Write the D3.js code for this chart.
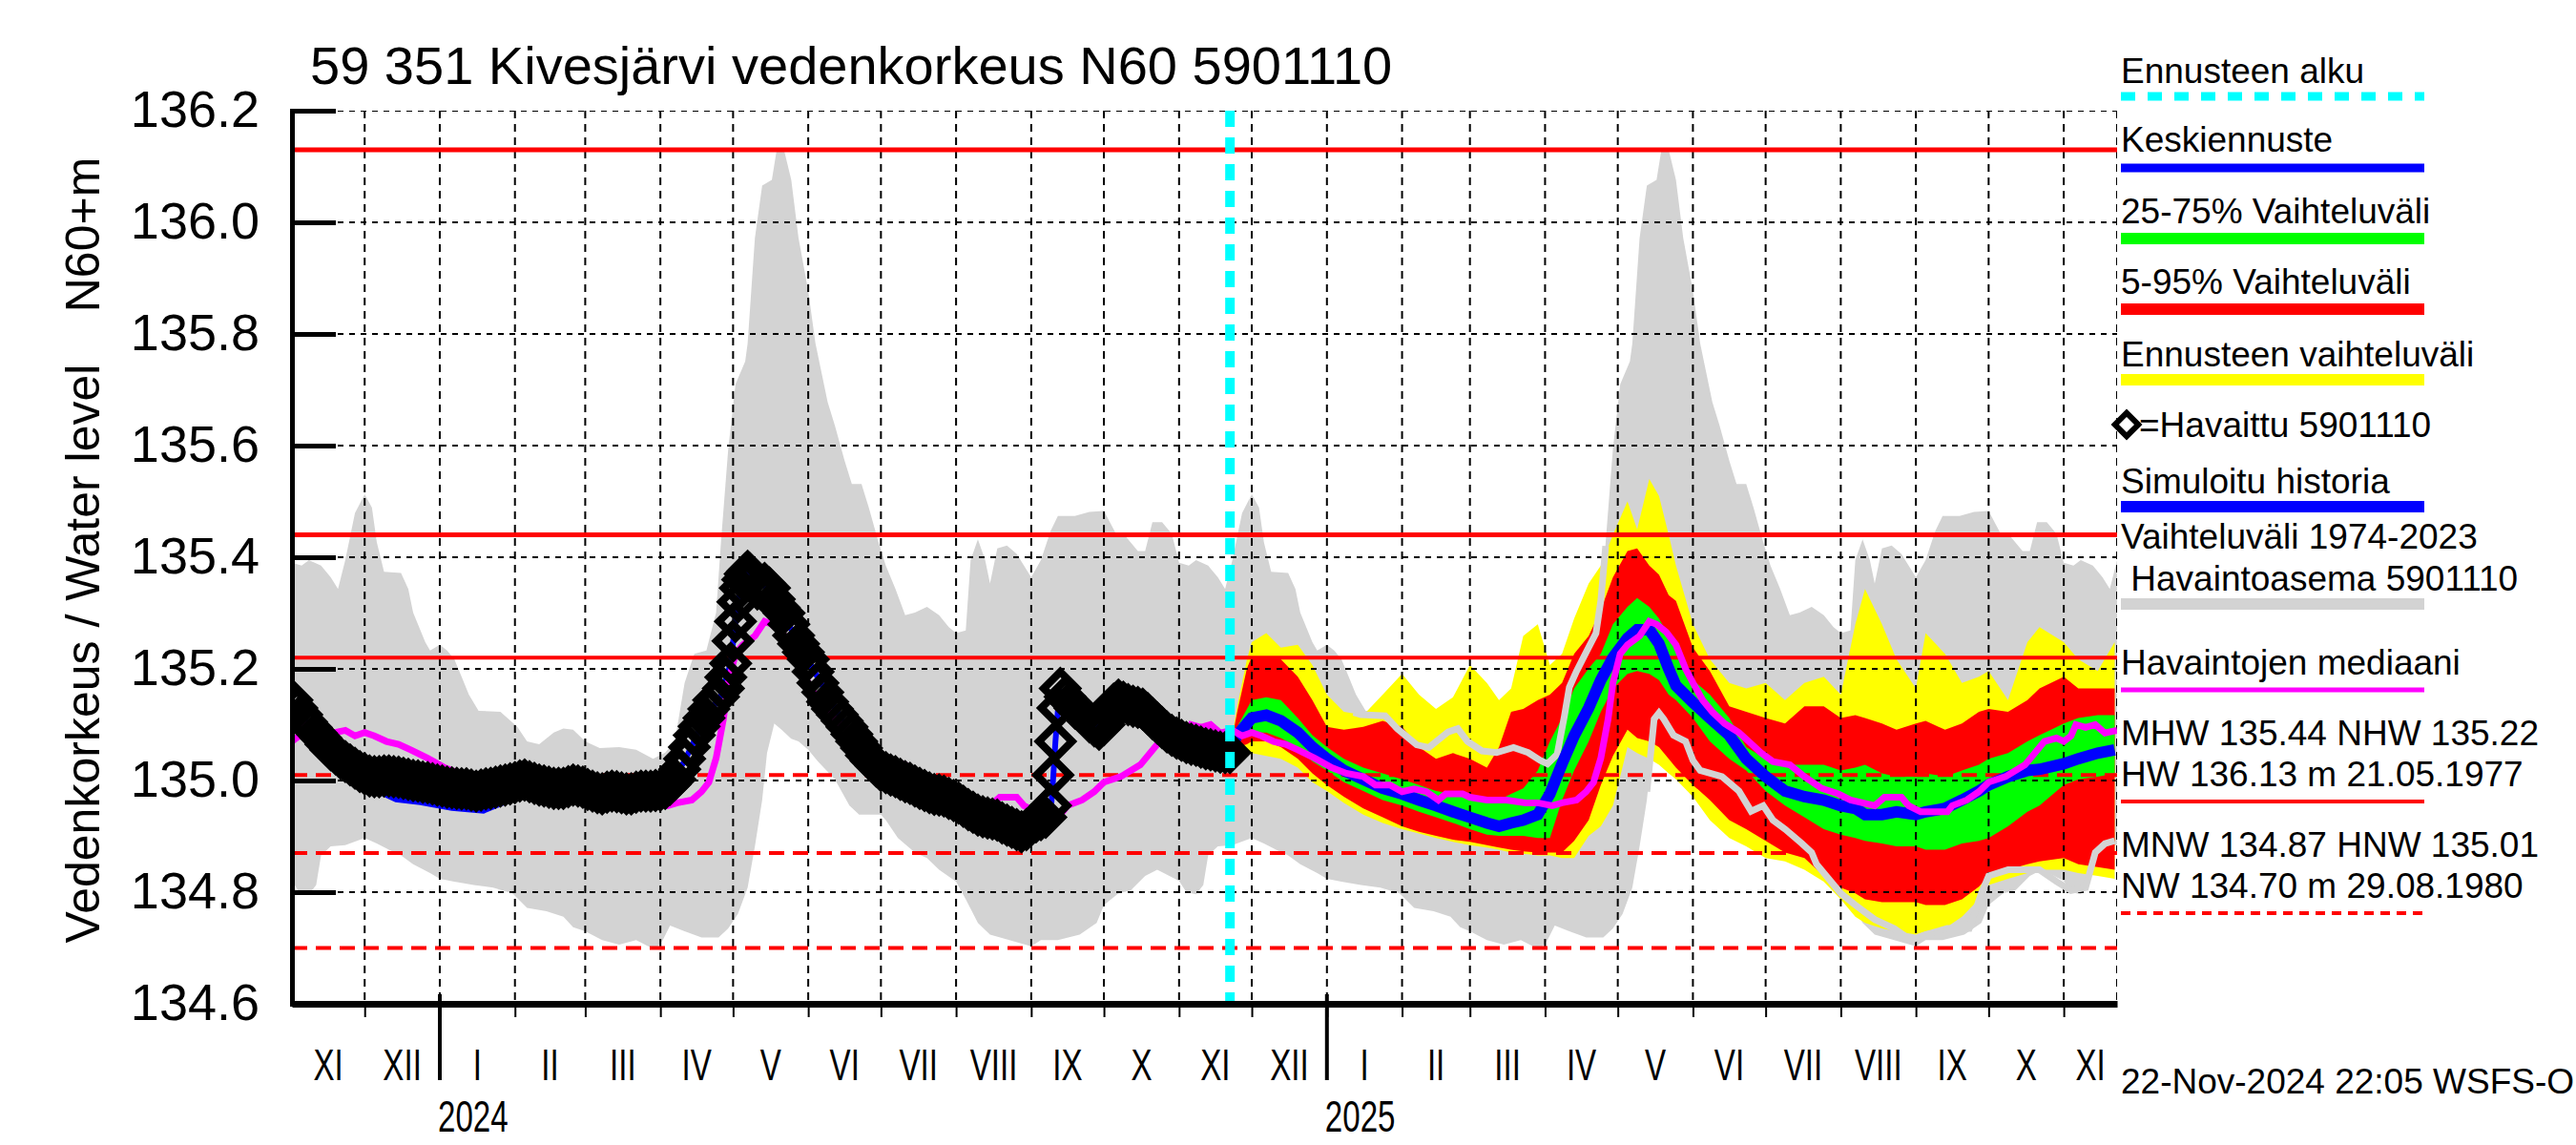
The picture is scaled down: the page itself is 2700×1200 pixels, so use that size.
<!DOCTYPE html>
<html>
<head>
<meta charset="utf-8">
<script src="https://cdn.jsdelivr.net/npm/d3@7"></script>
<style>
  body { margin: 0; background: #fff; }
  svg { display: block; }
  text { font-family: "Liberation Sans", Arial, Helvetica, sans-serif; fill: #000; }
</style>
</head>
<body>
<svg id="chart" width="2700" height="1200"></svg>
<script>
// ---- data ----
const titleText = "59 351 Kivesjärvi vedenkorkeus N60 5901110";
const yTicks = [134.6, 134.8, 135.0, 135.2, 135.4, 135.6, 135.8, 136.0, 136.2];
const monthNames = ["I","II","III","IV","V","VI","VII","VIII","IX","X","XI","XII"];
const refSolid = [136.13, 135.44, 135.22];   // HW, MHW, NHW
const refDashed = [135.01, 134.87, 134.70];  // HNW, MNW, NW

// climatology 1974-2023, by month-day (repeats every year)
const climUpper = [
  ["11-01",135.39],["11-05",135.385],["11-08",135.395],["11-13",135.385],["11-17",135.364],["11-20",135.343],
  ["11-23",135.395],["11-27",135.479],["12-01",135.513],["12-04",135.489],["12-06",135.427],["12-09",135.374],
  ["12-16",135.372],["12-19",135.343],["12-21",135.301],["12-26",135.248],["12-28",135.233],["01-01",135.243],
  ["01-04",135.233],["01-07",135.217],["01-10",135.186],["01-13",135.154],["01-17",135.125],["01-26",135.123],
  ["02-02",135.096],["02-06",135.07],["02-11",135.065],["02-17",135.086],["02-21",135.093],["02-25",135.091],
  ["03-01",135.07],["03-07",135.058],["03-15",135.06],["03-22",135.055],["03-29",135.039],["04-03",135.05],
  ["04-07",135.07],["04-09",135.123],["04-11",135.175],["04-15",135.227],["04-20",135.233],["04-24",135.301],
  ["04-26",135.427],["04-29",135.594],["05-02",135.71],["05-06",135.751],["05-07",135.783],["05-10",135.972],
  ["05-13",136.066],["05-17",136.076],["05-19",136.13],["05-22",136.13],["05-25",136.076],["05-28",135.972],
  ["06-01",135.877],["06-04",135.783],["06-09",135.678],["06-12",135.636],["06-16",135.573],["06-19",135.531],
  ["06-23",135.531],["06-26",135.489],["06-30",135.427],["07-03",135.385],["07-07",135.343],["07-11",135.296],
  ["07-15",135.301],["07-20",135.311],["07-25",135.296],["07-29",135.275],["08-01",135.264],["08-05",135.269],
  ["08-07",135.395],["08-10",135.432],["08-13",135.395],["08-15",135.353],["08-18",135.416],["08-22",135.421],
  ["08-26",135.406],["09-01",135.364],["09-05",135.395],["09-09",135.447],["09-12",135.474],["09-19",135.474],
  ["09-25",135.481],["10-01",135.483],["10-06",135.442],["10-10",135.437],["10-15",135.411],["10-18",135.411],
  ["10-21",135.463],["10-25",135.463],["10-29",135.442]
];
const climLower = [
  ["11-01",134.82],["11-04",134.80],["11-08",134.796],["11-11",134.813],["11-13",134.866],["11-17",134.882],
  ["11-23",134.884],["12-01",134.897],["12-06",134.887],["12-11",134.876],["12-16",134.866],["12-21",134.85],
  ["12-28",134.834],["01-01",134.824],["01-07",134.819],["01-15",134.813],["01-23",134.808],["01-31",134.798],
  ["02-06",134.772],["02-14",134.766],["02-21",134.756],["02-25",134.737],["03-01",134.73],["03-08",134.714],
  ["03-15",134.706],["03-22",134.714],["03-27",134.703],["03-30",134.698],["04-02",134.714],["04-05",134.74],
  ["04-11",134.73],["04-18",134.719],["04-25",134.719],["04-29",134.735],["05-03",134.761],["05-07",134.808],
  ["05-10",134.882],["05-13",134.965],["05-15",135.049],["05-18",135.102],["05-21",135.091],["05-25",135.075],
  ["05-28",135.07],["06-01",135.055],["06-05",135.034],["06-12",135.002],["06-18",134.955],["06-22",134.939],
  ["07-01",134.939],["07-03",134.929],["07-08",134.897],["07-15",134.871],["07-20",134.861],["07-25",134.84],
  ["08-01",134.819],["08-05",134.787],["08-10",134.745],["08-15",134.724],["08-23",134.714],["09-01",134.703],
  ["09-05",134.714],["09-12",134.714],["09-21",134.724],["09-28",134.745],["10-01",134.777],["10-07",134.798],
  ["10-12",134.803],["10-18",134.829],["10-23",134.84],["10-28",134.829]
];
const climMedian = [
  ["11-01",135.07],["11-04",135.08],["11-06",135.10],["11-10",135.095],["11-14",135.10],["11-18",135.085],
  ["11-23",135.09],["11-27",135.08],["12-01",135.086],["12-05",135.08],["12-10",135.07],["12-15",135.065],
  ["12-20",135.055],["12-27",135.04],["01-03",135.023],["01-09",135.013],["01-16",135.007],["01-21",134.992],
  ["01-27",134.992],["02-01",134.98],["02-06",134.985],["02-11",134.98],["02-16",134.965],["02-19",134.976],
  ["02-26",134.976],["03-01",134.97],["03-08",134.965],["03-16",134.965],["03-24",134.96],["03-29",134.96],
  ["04-04",134.955],["04-08",134.96],["04-14",134.965],["04-18",134.98],["04-21",134.997],["04-24",135.04],
  ["04-27",135.11],["04-29",135.175],["05-02",135.227],["05-05",135.243],["05-10",135.259],["05-14",135.285],
  ["05-17",135.28],["05-21",135.266],["05-25",135.243],["05-29",135.20],["06-01",135.175],["06-05",135.144],
  ["06-09",135.123],["06-14",135.102],["06-20",135.086],["06-24",135.07],["06-29",135.05],["07-04",135.034],
  ["07-11",135.028],["07-17",135.007],["07-24",134.986],["07-31",134.976],["08-05",134.965],["08-10",134.96],
  ["08-15",134.955],["08-19",134.97],["08-26",134.97],["08-29",134.955],["09-03",134.944],["09-14",134.944],
  ["09-16",134.955],["09-22",134.965],["09-27",134.98],["10-01",134.997],["10-08",135.007],["10-16",135.028],
  ["10-24",135.07],["10-29",135.076]
];

// observed water level 5901110
const observed = [
  ["2023-11-01",135.144],["2023-11-03",135.13],["2023-11-05",135.118],["2023-11-07",135.105],["2023-11-09",135.095],
  ["2023-11-11",135.085],["2023-11-13",135.076],["2023-11-15",135.065],["2023-11-17",135.055],["2023-11-19",135.048],
  ["2023-11-21",135.04],["2023-11-23",135.034],["2023-11-25",135.028],["2023-11-27",135.022],["2023-11-29",135.016],
  ["2023-12-01",135.012],["2023-12-03",135.008],["2023-12-05",135.007],["2023-12-07",135.007],["2023-12-09",135.008],
  ["2023-12-11",135.008],["2023-12-13",135.007],["2023-12-15",135.006],["2023-12-17",135.004],["2023-12-19",135.002],
  ["2023-12-21",135.0],["2023-12-23",134.999],["2023-12-25",134.997],["2023-12-27",134.996],["2023-12-29",134.994],
  ["2023-12-31",134.992],["2024-01-02",134.99],["2024-01-04",134.988],["2024-01-06",134.987],["2024-01-08",134.986],
  ["2024-01-10",134.985],["2024-01-12",134.985],["2024-01-14",134.983],["2024-01-16",134.981],["2024-01-18",134.983],
  ["2024-01-20",134.985],["2024-01-22",134.986],["2024-01-24",134.988],["2024-01-26",134.99],["2024-01-28",134.992],
  ["2024-01-30",134.994],["2024-02-01",134.996],["2024-02-03",134.999],["2024-02-05",135.001],["2024-02-07",134.998],
  ["2024-02-09",134.995],["2024-02-11",134.992],["2024-02-13",134.99],["2024-02-15",134.988],["2024-02-17",134.986],
  ["2024-02-19",134.986],["2024-02-21",134.986],["2024-02-23",134.989],["2024-02-25",134.992],["2024-02-27",134.99],
  ["2024-02-29",134.988],["2024-03-02",134.984],["2024-03-04",134.981],["2024-03-06",134.978],["2024-03-08",134.976],
  ["2024-03-10",134.979],["2024-03-12",134.981],["2024-03-14",134.98],["2024-03-16",134.978],["2024-03-18",134.976],
  ["2024-03-20",134.976],["2024-03-22",134.979],["2024-03-24",134.981],["2024-03-26",134.981],["2024-03-28",134.981],
  ["2024-03-30",134.982],["2024-04-01",134.983],["2024-04-03",134.986],["2024-04-05",134.993],["2024-04-07",135.002],
  ["2024-04-09",135.02],["2024-04-11",135.039],["2024-04-13",135.06],["2024-04-15",135.081],["2024-04-17",135.097],
  ["2024-04-19",135.112],["2024-04-21",135.128],["2024-04-23",135.144],["2024-04-25",135.15],["2024-04-27",135.165],
  ["2024-04-28",135.185],["2024-04-30",135.21],["2024-05-01",135.25],["2024-05-02",135.285],["2024-05-03",135.32],
  ["2024-05-04",135.345],["2024-05-05",135.36],["2024-05-06",135.37],["2024-05-07",135.375],["2024-05-08",135.37],
  ["2024-05-09",135.364],["2024-05-11",135.343],["2024-05-12",135.345],["2024-05-14",135.353],["2024-05-16",135.345],
  ["2024-05-18",135.325],["2024-05-20",135.31],["2024-05-22",135.30],["2024-05-24",135.28],["2024-05-26",135.26],
  ["2024-05-28",135.245],["2024-05-30",135.23],["2024-06-01",135.217],["2024-06-03",135.195],["2024-06-05",135.175],
  ["2024-06-07",135.158],["2024-06-09",135.141],["2024-06-11",135.128],["2024-06-13",135.118],["2024-06-15",135.107],
  ["2024-06-17",135.096],["2024-06-19",135.083],["2024-06-21",135.07],["2024-06-23",135.058],["2024-06-25",135.045],
  ["2024-06-27",135.035],["2024-06-29",135.026],["2024-07-01",135.018],["2024-07-03",135.014],["2024-07-05",135.01],
  ["2024-07-07",135.007],["2024-07-09",135.002],["2024-07-11",134.998],["2024-07-13",134.995],["2024-07-15",134.99],
  ["2024-07-17",134.986],["2024-07-19",134.982],["2024-07-21",134.978],["2024-07-23",134.975],["2024-07-25",134.974],
  ["2024-07-27",134.972],["2024-07-29",134.968],["2024-07-31",134.964],["2024-08-02",134.96],["2024-08-04",134.954],
  ["2024-08-06",134.948],["2024-08-08",134.943],["2024-08-10",134.938],["2024-08-12",134.935],["2024-08-14",134.933],
  ["2024-08-16",134.931],["2024-08-18",134.929],["2024-08-20",134.924],["2024-08-22",134.92],["2024-08-24",134.916],
  ["2024-08-26",134.912],["2024-08-28",134.908],["2024-08-30",134.912],["2024-09-01",134.92],["2024-09-03",134.926],
  ["2024-09-05",134.93],["2024-09-07",134.934],["2024-09-09",134.955],["2024-09-10",135.01],["2024-09-11",135.07],
  ["2024-09-12",135.13],["2024-09-13",135.165],["2024-09-15",135.15],["2024-09-17",135.14],["2024-09-19",135.13],
  ["2024-09-21",135.123],["2024-09-23",135.115],["2024-09-25",135.105],["2024-09-27",135.098],["2024-09-29",135.092],
  ["2024-10-01",135.1],["2024-10-03",135.122],["2024-10-05",135.137],["2024-10-07",135.144],["2024-10-09",135.14],
  ["2024-10-11",135.136],["2024-10-13",135.133],["2024-10-15",135.131],["2024-10-17",135.128],["2024-10-19",135.12],
  ["2024-10-21",135.111],["2024-10-23",135.103],["2024-10-25",135.095],["2024-10-27",135.087],["2024-10-29",135.081],
  ["2024-10-31",135.076],["2024-11-02",135.072],["2024-11-04",135.068],["2024-11-06",135.065],["2024-11-08",135.063],
  ["2024-11-10",135.06],["2024-11-12",135.057],["2024-11-14",135.055],["2024-11-16",135.053],["2024-11-18",135.051],
  ["2024-11-20",135.05],["2024-11-22",135.05]
];

// simulated history
const simulated = [
  ["2023-11-01",135.14],["2023-11-10",135.088],["2023-11-20",135.042],["2023-11-30",135.0],["2023-12-07",134.98],
  ["2023-12-14",134.966],["2023-12-24",134.961],["2024-01-06",134.951],["2024-01-19",134.946],["2024-01-28",134.962],
  ["2024-02-05",134.978],["2024-02-15",134.972],["2024-02-25",134.966],["2024-03-05",134.97],["2024-03-20",134.972],
  ["2024-04-03",134.982],["2024-04-11",135.035],["2024-04-19",135.108],["2024-04-26",135.152],["2024-04-30",135.21],
  ["2024-05-02",135.285],["2024-05-04",135.34],["2024-05-07",135.37],["2024-05-14",135.35],["2024-05-22",135.295],
  ["2024-06-01",135.215],["2024-06-16",135.1],["2024-07-01",135.017],["2024-07-17",134.986],["2024-08-02",134.96],
  ["2024-08-18",134.928],["2024-08-28",134.91],["2024-09-07",134.93],["2024-09-09",134.94],["2024-09-10",135.0],
  ["2024-09-11",135.07],["2024-09-12",135.125],["2024-09-13",135.16],["2024-09-21",135.122],["2024-09-30",135.09],
  ["2024-10-07",135.142],["2024-10-17",135.126],["2024-10-27",135.082],["2024-11-06",135.055],["2024-11-15",135.037],
  ["2024-11-22",135.035]
];

// forecast: date, max, 95%, 75%, median, 25%, 5%, min
const forecastRows = [
  ["2024-11-22",135.055,135.055,135.055,135.055,135.055,135.055,135.055],
  ["2024-11-25",135.133,135.123,135.096,135.081,135.070,135.060,135.049],
  ["2024-11-29",135.217,135.201,135.128,135.102,135.081,135.065,135.051],
  ["2024-12-01",135.248,135.222,135.144,135.112,135.086,135.070,135.049],
  ["2024-12-07",135.264,135.222,135.149,135.117,135.086,135.070,135.044],
  ["2024-12-13",135.238,135.217,135.144,135.107,135.076,135.060,135.039],
  ["2024-12-20",135.243,135.186,135.112,135.086,135.060,135.039,135.023],
  ["2024-12-26",135.207,135.144,135.081,135.060,135.034,135.013,134.997],
  ["2025-01-01",135.154,135.096,135.060,135.039,135.018,134.992,134.981],
  ["2025-01-08",135.123,135.091,135.039,135.018,134.997,134.971,134.960],
  ["2025-01-16",135.117,135.096,135.023,135.002,134.981,134.950,134.939],
  ["2025-01-24",135.154,135.107,135.013,134.986,134.965,134.934,134.924],
  ["2025-02-01",135.191,135.096,135.002,134.976,134.955,134.918,134.913],
  ["2025-02-08",135.154,135.060,134.992,134.965,134.944,134.908,134.905],
  ["2025-02-15",135.128,135.039,134.981,134.955,134.934,134.901,134.897],
  ["2025-02-22",135.149,135.049,134.976,134.944,134.924,134.894,134.890],
  ["2025-03-01",135.207,135.039,134.971,134.934,134.913,134.890,134.884],
  ["2025-03-08",135.175,135.023,134.965,134.924,134.903,134.884,134.880],
  ["2025-03-13",135.144,135.060,134.965,134.918,134.901,134.880,134.876],
  ["2025-03-18",135.165,135.123,134.976,134.924,134.901,134.876,134.871],
  ["2025-03-23",135.259,135.128,134.986,134.929,134.901,134.873,134.869],
  ["2025-03-29",135.280,135.144,135.018,134.939,134.897,134.871,134.866],
  ["2025-04-03",135.207,135.154,135.070,134.976,134.897,134.871,134.866],
  ["2025-04-08",135.227,135.175,135.112,135.030,134.965,134.871,134.861],
  ["2025-04-13",135.290,135.227,135.165,135.080,135.018,134.892,134.861],
  ["2025-04-19",135.353,135.259,135.201,135.130,135.070,134.929,134.901],
  ["2025-04-24",135.385,135.306,135.227,135.180,135.123,134.992,134.918],
  ["2025-04-29",135.440,135.364,135.280,135.220,135.165,135.044,134.955],
  ["2025-05-05",135.500,135.411,135.311,135.255,135.191,135.091,135.060],
  ["2025-05-09",135.450,135.416,135.327,135.270,135.196,135.076,135.049],
  ["2025-05-14",135.540,135.385,135.311,135.270,135.191,135.070,135.039],
  ["2025-05-18",135.510,135.369,135.290,135.245,135.180,135.060,135.028],
  ["2025-05-22",135.440,135.332,135.259,135.200,135.154,135.039,135.013],
  ["2025-05-25",135.385,135.322,135.238,135.170,135.144,135.023,135.002],
  ["2025-06-01",135.280,135.238,135.180,135.140,135.112,134.992,134.971],
  ["2025-06-08",135.217,135.196,135.154,135.112,135.070,134.965,134.929],
  ["2025-06-16",135.175,135.133,135.112,135.081,135.039,134.929,134.897],
  ["2025-06-23",135.165,135.123,135.060,135.039,135.018,134.913,134.882],
  ["2025-07-01",135.175,135.112,135.039,135.007,134.981,134.892,134.861],
  ["2025-07-09",135.144,135.102,135.028,134.981,134.955,134.871,134.855],
  ["2025-07-17",135.175,135.133,135.028,134.971,134.934,134.861,134.840],
  ["2025-07-25",135.186,135.133,135.028,134.965,134.913,134.829,134.819],
  ["2025-08-01",135.154,135.112,135.018,134.955,134.903,134.808,134.787],
  ["2025-08-07",135.280,135.117,135.023,134.950,134.897,134.798,134.756],
  ["2025-08-11",135.343,135.112,135.028,134.939,134.892,134.787,134.745],
  ["2025-08-18",135.280,135.102,135.013,134.939,134.887,134.782,134.735],
  ["2025-08-24",135.217,135.091,135.007,134.944,134.882,134.782,134.730],
  ["2025-09-01",135.165,135.102,135.007,134.939,134.882,134.782,134.724],
  ["2025-09-05",135.264,135.107,135.013,134.944,134.876,134.777,134.730],
  ["2025-09-13",135.227,135.091,135.007,134.950,134.876,134.777,134.735],
  ["2025-09-20",135.175,135.102,135.018,134.965,134.887,134.787,134.756],
  ["2025-09-27",135.186,135.123,135.028,134.981,134.892,134.810,134.787],
  ["2025-10-01",135.196,135.128,135.039,134.992,134.897,134.829,134.813],
  ["2025-10-09",135.144,135.123,135.049,135.007,134.918,134.840,134.824],
  ["2025-10-17",135.248,135.144,135.070,135.018,134.944,134.850,134.834],
  ["2025-10-22",135.275,135.165,135.081,135.020,134.955,134.855,134.840],
  ["2025-11-01",135.248,135.186,135.102,135.030,134.992,134.861,134.840],
  ["2025-11-07",135.217,135.165,135.112,135.039,135.002,134.850,134.834],
  ["2025-11-15",135.196,135.165,135.117,135.049,135.007,134.845,134.829],
  ["2025-11-22",135.248,135.165,135.117,135.055,135.013,134.840,134.824]
];

// light grey trace drawn over the forecast (null = gap)
const greyTrace = [
  ["2025-01-12",135.122],["2025-01-15",135.118],["2025-01-25",135.116],["2025-01-30",135.093],["2025-02-07",135.064],
  ["2025-02-12",135.059],["2025-02-20",135.087],["2025-02-24",135.093],["2025-02-28",135.07],["2025-03-06",135.053],
  ["2025-03-12",135.05],["2025-03-19",135.059],["2025-03-25",135.05],["2025-03-30",135.036],["2025-04-02",135.03],
  ["2025-04-06",135.047],["2025-04-09",135.116],["2025-04-11",135.167],["2025-04-14",135.196],["2025-04-18",135.23],
  ["2025-04-22",135.264],["2025-04-24",135.322],["2025-04-26",135.42],["2025-05-01",null],
  ["2025-05-13",134.98],["2025-05-16",135.11],["2025-05-18",135.121],["2025-05-20",135.11],["2025-05-24",135.081],
  ["2025-05-29",135.07],["2025-06-01",135.036],["2025-06-04",135.018],["2025-06-13",135.007],["2025-06-20",134.981],
  ["2025-06-25",134.945],["2025-06-30",134.955],["2025-07-04",134.929],["2025-07-09",134.913],["2025-07-16",134.887],
  ["2025-07-20",134.871],["2025-07-22",134.85],["2025-07-28",134.819],["2025-08-01",134.798],["2025-08-07",134.777],
  ["2025-08-15",134.751],["2025-08-23",134.735],["2025-08-30",134.714],["2025-09-05",134.724],["2025-09-14",134.735],
  ["2025-09-23",134.735],["2025-09-28",134.798],["2025-10-01",134.829],["2025-10-09",134.84],["2025-10-22",134.84],
  ["2025-10-29",134.819],["2025-11-04",134.803],["2025-11-10",134.808],["2025-11-14",134.871],["2025-11-18",134.887],
  ["2025-11-22",134.892]
];

const legendItems = [
  { label: "Ennusteen alku", y: 87, bar: { y: 101, color: "#00ffff", w: 9, dash: "15,13" } },
  { label: "Keskiennuste", y: 159, bar: { y: 176, color: "#0000ff", w: 9 } },
  { label: "25-75% Vaihteluväli", y: 234, bar: { y: 250, color: "#00ff00", w: 12 } },
  { label: "5-95% Vaihteluväli", y: 308, bar: { y: 324, color: "#ff0000", w: 12 } },
  { label: "Ennusteen vaihteluväli", y: 384, bar: { y: 398, color: "#ffff00", w: 12 } },
  { label: "=Havaittu 5901110", y: 458, dx: 19, diamond: true },
  { label: "Simuloitu historia", y: 517, bar: { y: 531, color: "#0000ff", w: 12 } },
  { label: "Vaihteluväli 1974-2023", y: 575 },
  { label: " Havaintoasema 5901110", y: 619, bar: { y: 633, color: "#d3d3d3", w: 12 } },
  { label: "Havaintojen mediaani", y: 707, bar: { y: 723, color: "#ff00ff", w: 5 } },
  { label: "MHW 135.44 NHW 135.22", y: 781 },
  { label: "HW 136.13 m 21.05.1977", y: 824, bar: { y: 840, color: "#ff0000", w: 4 } },
  { label: "MNW 134.87 HNW 135.01", y: 898 },
  { label: "NW 134.70 m 29.08.1980", y: 941, bar: { y: 957, color: "#ff0000", w: 4, dash: "10,7" } },
  { label: "22-Nov-2024 22:05 WSFS-O", y: 1146 }
];

// ---- chart ----
const parse = d3.timeParse("%Y-%m-%d");
const xStart = parse("2023-11-01"), xEnd = parse("2025-11-23");
const forecastStart = parse("2024-11-22");

const margin = { top: 116, right: 481, bottom: 148, left: 306 },
      width = 2700 - margin.left - margin.right,
      height = 1200 - margin.top - margin.bottom;

const svg = d3.select("#chart");
const x = d3.scaleTime().domain([xStart, xEnd]).range([0, width]);
const y = d3.scaleLinear().domain([134.6, 136.2]).range([height, 0]);

function expandClim(pairs) {
  const out = [];
  [2023, 2024, 2025].forEach(function (y0) {
    pairs.forEach(function (p) {
      const m = +p[0].slice(0, 2);
      const d = parse((m >= 11 ? y0 : y0 + 1) + "-" + p[0]);
      if (d >= xStart && d <= xEnd) out.push({ date: d, v: p[1] });
    });
  });
  return out;
}
const toPts = arr => arr.map(p => ({ date: parse(p[0]), v: p[1] }));

const upper = expandClim(climUpper), lower = expandClim(climLower), median = expandClim(climMedian);
const obs = toPts(observed), sim = toPts(simulated), grey = toPts(greyTrace);
const fc = forecastRows.map(r => ({ date: parse(r[0]), max: r[1], p95: r[2], p75: r[3], med: r[4], p25: r[5], p05: r[6], min: r[7] }));

const line = d3.line().defined(d => d.v != null).x(d => x(d.date)).y(d => y(d.v));

const root = svg.append("g").attr("transform", "translate(" + margin.left + "," + margin.top + ")");
root.append("clipPath").attr("id", "plotclip").append("rect")
  .attr("x", 0).attr("y", 0).attr("width", width).attr("height", height);
const plot = root.append("g").attr("clip-path", "url(#plotclip)");

// grey climatology band
plot.append("path")
  .attr("d", line(upper.concat(lower.slice().reverse())) + "Z")
  .attr("fill", "#d3d3d3");

// forecast bands
function band(k0, k1, color) {
  plot.append("path").datum(fc)
    .attr("fill", color)
    .attr("d", d3.area().x(d => x(d.date)).y0(d => y(d[k0])).y1(d => y(d[k1])));
}
band("min", "max", "#ffff00");
band("p05", "p95", "#ff0000");
band("p25", "p75", "#00ff00");

// grid
plot.selectAll(".hgrid").data(yTicks.slice(1)).enter().append("line")
  .attr("x1", 0).attr("x2", width)
  .attr("y1", d => y(d)).attr("y2", d => y(d))
  .attr("stroke", "#000").attr("stroke-width", 2).attr("stroke-dasharray", "6,6");
const months = d3.timeMonth.range(d3.timeMonth.offset(xStart, 1), xEnd);
plot.selectAll(".vgrid").data(months.concat([xEnd])).enter().append("line")
  .attr("x1", d => x(d)).attr("x2", d => x(d))
  .attr("y1", 0).attr("y2", height)
  .attr("stroke", "#000").attr("stroke-width", 2).attr("stroke-dasharray", "8,6");

// reference levels
plot.selectAll(".refs").data(refSolid).enter().append("line")
  .attr("x1", 0).attr("x2", width)
  .attr("y1", d => y(d)).attr("y2", d => y(d))
  .attr("stroke", "#ff0000").attr("stroke-width", (d, i) => i < 2 ? 5 : 4);
plot.selectAll(".refd").data(refDashed).enter().append("line")
  .attr("x1", 0).attr("x2", width)
  .attr("y1", d => y(d)).attr("y2", d => y(d))
  .attr("stroke", "#ff0000").attr("stroke-width", 4).attr("stroke-dasharray", "16,9");

// lines
plot.append("path").attr("d", line(grey)).attr("fill", "none")
  .attr("stroke", "#d3d3d3").attr("stroke-width", 7);
plot.append("path").datum(fc).attr("fill", "none")
  .attr("stroke", "#0000ff").attr("stroke-width", 12)
  .attr("d", d3.line().x(d => x(d.date)).y(d => y(d.med)));
plot.append("path").attr("d", line(sim)).attr("fill", "none")
  .attr("stroke", "#0000ff").attr("stroke-width", 6);
plot.append("path").attr("d", line(median)).attr("fill", "none")
  .attr("stroke", "#ff00ff").attr("stroke-width", 7);

// observed diamonds
const diamond = d3.symbol().type(d3.symbolSquare).size(600);
plot.selectAll(".obs").data(obs).enter().append("path")
  .attr("d", diamond)
  .attr("transform", d => "translate(" + x(d.date) + "," + y(d.v) + ") rotate(45)")
  .attr("fill", "none").attr("stroke", "#000").attr("stroke-width", 8);

// forecast start
plot.append("line")
  .attr("x1", x(forecastStart)).attr("x2", x(forecastStart))
  .attr("y1", 0).attr("y2", height)
  .attr("stroke", "#00ffff").attr("stroke-width", 10).attr("stroke-dasharray", "17,11");

// y axis
const yAxis = d3.axisLeft(y).tickValues(yTicks).tickFormat(d3.format(".1f")).tickSize(-46).tickPadding(34);
const gy = root.append("g").attr("class", "yAxis").call(yAxis);
gy.select(".domain").attr("stroke-width", 5);
gy.selectAll(".tick line").attr("stroke-width", 5);
gy.selectAll(".tick text").attr("font-size", 54).attr("dy", "0.3em")
  .attr("font-family", "Liberation Sans, Arial, sans-serif");

// x axis
const xAxis = d3.axisBottom(x).tickValues(months).tickFormat("").tickSize(14).tickSizeOuter(0);
const gx = root.append("g").attr("class", "xAxis").attr("transform", "translate(0," + height + ")").call(xAxis);
gx.select(".domain").attr("stroke-width", 7);
gx.selectAll(".tick line").attr("stroke-width", 2);

const years = months.filter(d => d.getMonth() === 0);
root.selectAll(".ytick").data(years).enter().append("line")
  .attr("x1", d => x(d)).attr("x2", d => x(d))
  .attr("y1", height - 10).attr("y2", height + 80)
  .attr("stroke", "#000").attr("stroke-width", 4);

const monthStarts = [xStart].concat(months);
root.selectAll(".mlabel").data(monthStarts).enter().append("text")
  .attr("transform", function (d) {
    const a = Math.max(+d, +xStart), b = Math.min(+d3.timeMonth.offset(d, 1), +xEnd);
    return "translate(" + (x(a) + x(b)) / 2 + "," + (height + 80) + ") scale(0.72,1)";
  })
  .attr("text-anchor", "middle").attr("font-size", 46)
  .text(d => monthNames[d.getMonth()]);

root.selectAll(".yearlabel").data(years).enter().append("text")
  .attr("transform", d => "translate(" + (x(d) - 2) + "," + (height + 134) + ") scale(0.72,1)")
  .attr("font-size", 46)
  .text(d => d.getFullYear());

// titles
svg.append("text").attr("x", 325).attr("y", 88).attr("font-size", 56).text(titleText);
svg.append("text").attr("transform", "translate(104,685) rotate(-90)")
  .attr("text-anchor", "middle").attr("font-size", 50).text("Vedenkorkeus / Water level");
svg.append("text").attr("transform", "translate(104,246) rotate(-90)")
  .attr("text-anchor", "middle").attr("font-size", 50).text("N60+m");

// legend
const lx = 2223, lEnd = 2541;
const lg = svg.append("g").attr("class", "legend");
legendItems.forEach(function (it) {
  lg.append("text").attr("x", lx + (it.dx || 0)).attr("y", it.y)
    .attr("font-size", 37).attr("xml:space", "preserve").text(it.label);
  if (it.bar) {
    lg.append("line").attr("x1", lx).attr("x2", lEnd)
      .attr("y1", it.bar.y).attr("y2", it.bar.y)
      .attr("stroke", it.bar.color).attr("stroke-width", it.bar.w)
      .attr("stroke-dasharray", it.bar.dash || null);
  }
  if (it.diamond) {
    lg.append("path").attr("d", d3.symbol().type(d3.symbolSquare).size(300))
      .attr("transform", "translate(" + (lx + 6) + "," + (it.y - 13) + ") rotate(45)")
      .attr("fill", "#fff").attr("stroke", "#000").attr("stroke-width", 6);
  }
});
</script>
</body>
</html>
